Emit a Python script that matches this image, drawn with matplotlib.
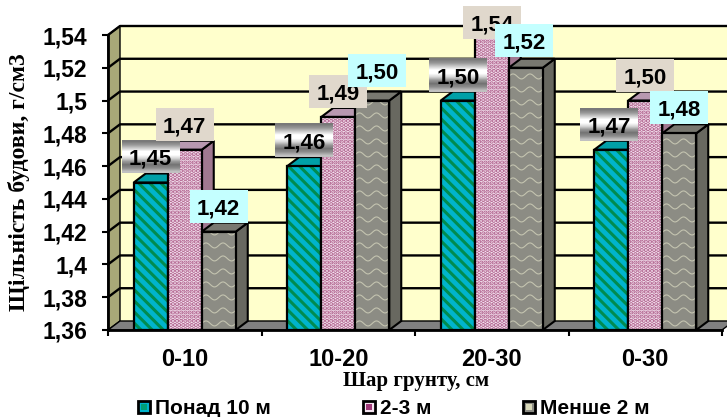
import numpy as np
import matplotlib
matplotlib.use("Agg")
import matplotlib.pyplot as plt
from matplotlib.patches import Polygon, Rectangle

categories = ["0-10", "10-20", "20-30", "0-30"]
series_names = ["Понад 10 м", "2-3 м", "Менше 2 м"]
over_10 = [1.45, 1.46, 1.50, 1.47]
from_2_to_3 = [1.47, 1.49, 1.54, 1.50]
under_2 = [1.42, 1.50, 1.52, 1.48]
y_ticks = [1.36, 1.38, 1.4, 1.42, 1.44, 1.46, 1.48, 1.5, 1.52, 1.54]
y_labels = ["1,36", "1,38", "1,4", "1,42", "1,44", "1,46", "1,48", "1,5", "1,52", "1,54"]

W, H = 727, 417
LEFT, RIGHT, TOP, BOTTOM = 108, 722, 35, 330
YMIN, YMAX = 1.36, 1.54
DEPTH_X, DEPTH_Y = 12, 9

plt.rcParams["font.family"] = ["Liberation Sans"]
plt.rcParams["hatch.linewidth"] = 2.2

fig = plt.figure(figsize=(W / 100, H / 100), dpi=100, facecolor="white")
ax = fig.add_axes([LEFT / W, 1 - BOTTOM / H, (RIGHT - LEFT) / W, (BOTTOM - TOP) / H])
ax.set_xlim(0, len(categories))
ax.set_ylim(YMIN, YMAX)
ax.patch.set_visible(False)

px_x = len(categories) / (RIGHT - LEFT)
px_y = (YMAX - YMIN) / (BOTTOM - TOP)
dx = DEPTH_X * px_x
dy = DEPTH_Y * px_y


def poly(points, color, z, edge="black", lw=1.5, hatch=None):
    p = Polygon(points, closed=True, facecolor=color, edgecolor=edge, linewidth=lw,
                hatch=hatch, zorder=z, clip_on=False)
    ax.add_patch(p)
    return p


# walls and floor
xmax = len(categories)
poly([(dx, YMIN + dy), (xmax + dx, YMIN + dy), (xmax + dx, YMAX + dy), (dx, YMAX + dy)], "#ffffcc", 1, lw=0)
poly([(0, YMIN), (dx, YMIN + dy), (dx, YMAX + dy), (0, YMAX)], "#a8a878", 1.1, lw=1)
poly([(0, YMIN), (xmax, YMIN), (xmax + dx, YMIN + dy), (dx, YMIN + dy)], "#808080", 1.1, lw=1)
for t in y_ticks[1:]:
    ax.plot([0, dx, xmax + dx], [t, t + dy, t + dy], color="black", lw=1.7, zorder=1.5, clip_on=False)

bar_w = 34 * px_x
styles = [
    ("#00b4cc", "#008c50", "\\\\\\", "#008878", "#00a0a8"),
    ("#f4e4f0", "#b0608c", "....", "#a07890", "#b898b0"),
    ("#8c8c84", "#8c8c84", None, "#686860", "#787870"),
]
all_series = [over_10, from_2_to_3, under_2]

for s, values in enumerate(all_series):
    face, hatch_col, hatch, side, top = styles[s]
    x = np.arange(len(categories)) + 0.5 + (s - 1) * bar_w
    z = 3 + s
    for xi, v in zip(x, values):
        x0, x1 = xi - bar_w / 2, xi + bar_w / 2
        poly([(x1, YMIN), (x1 + dx, YMIN + dy), (x1 + dx, v + dy), (x1, v)], side, z)
        poly([(x0, v), (x1, v), (x1 + dx, v + dy), (x0 + dx, v + dy)], top, z)
    heights = np.array(values) - YMIN
    bars = ax.bar(x, heights, bottom=YMIN, width=bar_w, color=face, edgecolor=hatch_col,
                  hatch=hatch, linewidth=0, zorder=z + 0.1)
    if s == 2:
        # pale wavy texture of the third series
        for b, v in zip(bars, values):
            xs = np.linspace(b.get_x(), b.get_x() + b.get_width(), 40)
            for level in np.arange(YMIN + 0.004, v, 13 * px_y):
                ys = level + 2.5 * px_y * np.sin((xs - b.get_x()) / (17 * px_x) * 2 * np.pi)
                line, = ax.plot(xs, ys, color="#c4c4b0", lw=0.8, zorder=z + 0.2)
                line.set_clip_path(b)
    ax.bar(x, heights, bottom=YMIN, width=bar_w, fill=False, edgecolor="black",
           linewidth=1.6, zorder=z + 0.3)

# value labels
BOX_W, BOX_H = 58, 33
box_colors = [None, "#e0d8cc", "#c4ffff"]
# nudges in pixels for labels moved by hand in the original
nudge = {(1, 2): (0, -13), (2, 1): (5, 5), (2, 2): (-2, 2), (0, 3): (-2, 0)}
gradient = np.array([0.48, 0.6, 0.8, 1.0, 1.0, 0.85, 0.6, 0.45, 0.55, 0.75]).reshape(-1, 1)
for s, values in enumerate(all_series):
    for i, v in enumerate(values):
        cx = i + 0.5 + (s - 1) * bar_w
        nx, ny = nudge.get((s, i), (0, 0))
        x0 = cx - BOX_W * px_x / 2 + nx * px_x
        y0 = v + dy + ny * px_y
        w, h = BOX_W * px_x, BOX_H * px_y
        z = 10 + s
        if box_colors[s] is None:
            ax.imshow(gradient, cmap="gray", vmin=0, vmax=1, extent=(x0, x0 + w, y0, y0 + h),
                      aspect="auto", zorder=z, clip_on=False, interpolation="bilinear")
        else:
            ax.add_patch(Rectangle((x0, y0), w, h, facecolor=box_colors[s], edgecolor="none",
                                   zorder=z, clip_on=False))
        ax.text(x0 + w / 2, y0 + h / 2, f"{v:.2f}".replace(".", ","), ha="center", va="center_baseline",
                fontsize=16, fontweight="bold", zorder=z + 0.5, clip_on=False)

ax.set_xlim(0, len(categories))
ax.set_ylim(YMIN, YMAX)
ax.set_yticks(y_ticks, y_labels, fontsize=16.5, fontweight="bold")
ax.set_xticks(range(len(categories) + 1), [""] * (len(categories) + 1))
ax.set_xticks(np.arange(len(categories)) + 0.5, categories, minor=True, fontsize=17, fontweight="bold")
ax.tick_params(axis="both", which="major", width=1.5, length=4, pad=11)
ax.tick_params(axis="x", which="minor", length=0, pad=13)
for name in ["top", "right"]:
    ax.spines[name].set_visible(False)
for name in ["left", "bottom"]:
    ax.spines[name].set_linewidth(2)
    ax.spines[name].set_zorder(2)
ax.spines["bottom"].set_zorder(9)

ax.set_ylabel("Щільність будови, г/см3", fontsize=17, fontweight="bold", family="Liberation Serif")
ax.yaxis.set_label_coords((30 - LEFT) / (RIGHT - LEFT), 0.5)
fig.text(416 / W, 1 - 381 / H, "Шар грунту, см", ha="center", va="center", fontsize=15,
         fontweight="bold", family="Liberation Serif")

# legend
legend_x = [138, 363, 523]
legend_inner = ["#00a078", "#a03878", "#d8d8b8"]
for name, lx, inner, style in zip(series_names, legend_x, legend_inner, styles):
    fig.add_artist(Rectangle((lx / W, 1 - 413 / H), 12 / W, 12 / H, transform=fig.transFigure,
                             facecolor=style[0], edgecolor="black", linewidth=2))
    fig.add_artist(Rectangle(((lx + 3) / W, 1 - 410 / H), 6 / W, 6 / H, transform=fig.transFigure,
                             facecolor=inner, edgecolor="none"))
    fig.text((lx + 17) / W, 1 - 408 / H, name, ha="left", va="center", fontsize=15, fontweight="bold")

fig.savefig("out.png", dpi=100)
